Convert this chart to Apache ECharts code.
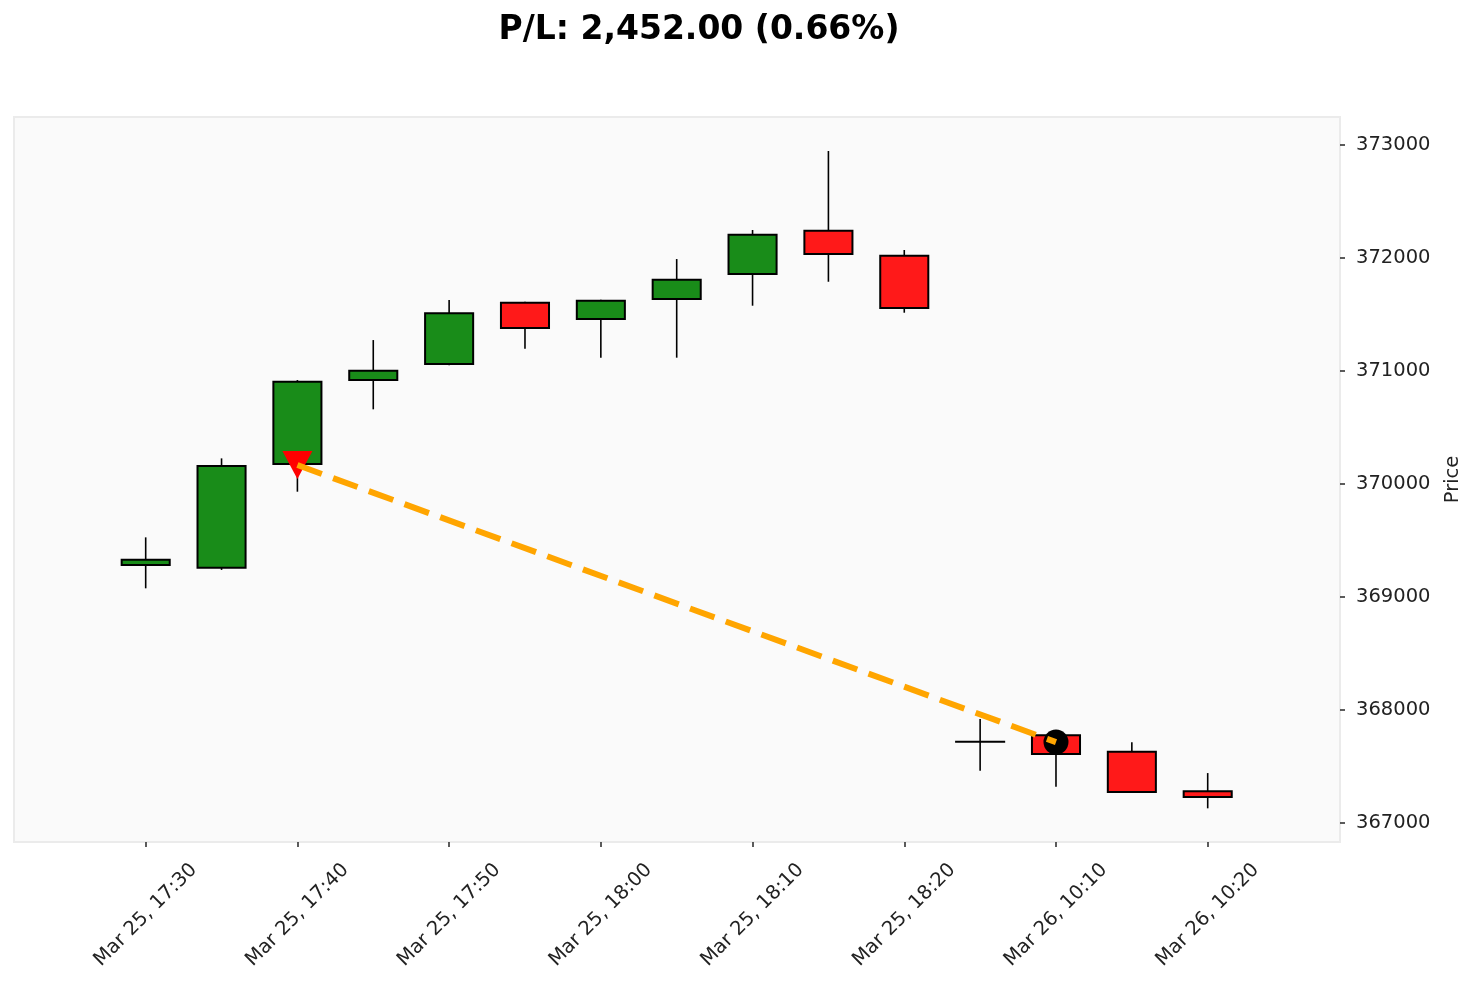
<!DOCTYPE html>
<html>
<head>
<meta charset="utf-8">
<style>
html,body{margin:0;padding:0;background:#ffffff;}
#chart{width:1477px;height:989px;}
</style>
<script src="https://cdn.jsdelivr.net/npm/echarts@6/dist/echarts.min.js"></script>
</head>
<body>
<div id="chart"></div>
<script>
// ---- data ----
const times = ['Mar 25, 17:30','Mar 25, 17:35','Mar 25, 17:40','Mar 25, 17:45','Mar 25, 17:50',
  'Mar 25, 17:55','Mar 25, 18:00','Mar 25, 18:05','Mar 25, 18:10','Mar 25, 18:15',
  'Mar 25, 18:20','Mar 26, 10:05','Mar 26, 10:10','Mar 26, 10:15','Mar 26, 10:20'];
const opens  = [369274,369250,370168,370911,371053,371613,371451,371628,371850,372250,372029,367719,367785,367640,367289];
const closes = [369339,370168,370914,371011,371519,371372,371631,371817,372215,372027,371549,367719,367602,367265,367221];
const lows   = [369077,369240,369932,370661,371050,371197,371118,371118,371578,371790,371516,367463,367321,367265,367130];
const highs  = [369528,370227,370920,371274,371628,371613,371631,371991,372248,372947,372071,367920,367785,367714,367442];
const xTickIdx = [0,2,4,6,8,10,12,14];
const yTicks = [367000,368000,369000,370000,371000,372000,373000];
const entryIdx = 2, entryPrice = 370168;
const exitIdx = 12, exitPrice = 367716;
const titleText = 'P/L: 2,452.00 (0.66%)';

const candleData = times.map((t,i)=>[i, opens[i], closes[i], lows[i], highs[i]]);

const FONT = 'DejaVu Sans';
const chart = echarts.init(document.getElementById('chart'));
chart.setOption({
  animation:false,
  backgroundColor:'#ffffff',
  title:{
    text:titleText, left:694, top:9, textAlign:'center',
    textStyle:{fontFamily:FONT,fontWeight:'bold',fontSize:33,color:'#000'}
  },
  grid:{
    left:14, right:137, top:117, bottom:147, outerBoundsMode:'none', containLabel:false,
    show:true, backgroundColor:'#fafafa', borderColor:'#ebebeb', borderWidth:2
  },
  xAxis:{
    type:'value', min:-1.736, max:15.744,
    axisLine:{show:false, onZero:false},
    splitLine:{show:false},
    axisTick:{show:true, length:5, lineStyle:{color:'#333',width:1.6}, customValues:xTickIdx},
    axisLabel:{
      customValues:xTickIdx, rotate:45, align:'center', verticalAlign:'middle', margin:73,
      fontFamily:FONT, fontSize:19.5, color:'#222',
      formatter:(v)=>times[Math.round(v)]
    }
  },
  yAxis:{
    type:'value', position:'right', min:366832, max:373248, scale:true,
    axisLine:{show:false, onZero:false},
    splitLine:{show:false},
    axisTick:{show:true, length:5, lineStyle:{color:'#333',width:1.6}, customValues:yTicks},
    axisLabel:{customValues:yTicks, margin:16, fontFamily:FONT, fontSize:19.5, color:'#222',
      formatter:(v)=>String(Math.round(v))},
    name:'Price', nameLocation:'middle', nameGap:103, nameRotate:90,
    nameTextStyle:{fontFamily:FONT,fontSize:19.5,color:'#222'}
  },
  series:[
    {
      type:'custom',
      data:candleData,
      z:2,
      renderItem:function(params, api){
        const x = api.value(0);
        const o = api.value(1), c = api.value(2), l = api.value(3), h = api.value(4);
        const pLow = api.coord([x,l]), pHigh = api.coord([x,h]);
        const pO = api.coord([x,o]), pC = api.coord([x,c]);
        const w = api.size([0.66,0])[0];
        const top = Math.min(pO[1],pC[1]), bot = Math.max(pO[1],pC[1]);
        const fill = c > o ? '#198c19' : (c < o ? '#ff1919' : '#000');
        const children = [
          {type:'line', shape:{x1:pLow[0],y1:pLow[1],x2:pHigh[0],y2:pHigh[1]},
           style:{stroke:'#000',lineWidth:1.6}}
        ];
        if (bot - top < 0.5) {
          children.push({type:'line', shape:{x1:pO[0]-w/2,y1:pO[1],x2:pO[0]+w/2,y2:pO[1]},
            style:{stroke:'#000',lineWidth:1.8}});
        } else {
          children.push({type:'rect', shape:{x:pO[0]-w/2+1,y:top+1,width:w-2,height:bot-top-2},
            style:{fill:fill,stroke:'#000',lineWidth:2}});
        }
        return {type:'group', children:children};
      }
    },
    {
      type:'scatter', z:3,
      data:[[entryIdx, entryPrice]],
      symbol:'triangle', symbolRotate:180, symbolSize:[30,28],
      itemStyle:{color:'#ff0000', opacity:1}
    },
    {
      type:'scatter', z:3,
      data:[[exitIdx, exitPrice]],
      symbol:'circle', symbolSize:25,
      itemStyle:{color:'#000000', opacity:1}
    },
    {
      type:'line', z:4,
      data:[[entryIdx, entryPrice],[exitIdx, exitPrice]],
      symbol:'none',
      lineStyle:{color:'#ffa500', width:6, type:[26,12]}
    }
  ]
});
</script>
</body>
</html>
